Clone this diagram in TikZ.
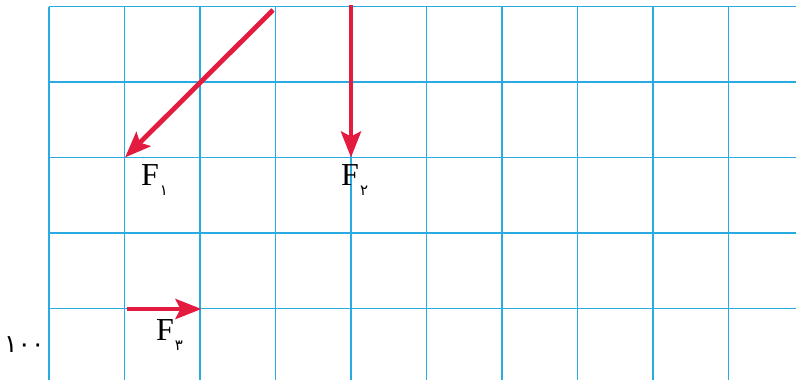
\documentclass[tikz,border=0pt]{standalone}
\usepackage{fontspec}
\setmainfont{Liberation Serif}
\newfontfamily\arabicfont[Script=Arabic]{DejaVu Sans}
\usetikzlibrary{arrows.meta}
\definecolor{gridblue}{HTML}{29ABE2}
\definecolor{vecred}{HTML}{E31B3F}
\tikzset{
  gridline/.style={draw=gridblue, line width=1.3pt},
  vector/.style={draw=vecred, line width=4.8pt, -{Stealth[length=26pt,width=20pt,inset=5pt]}},
  flabel/.style={anchor=base west, inner sep=0pt, font=\fontsize{32}{32}\selectfont},
}
\newcommand{\persub}[1]{\kern1pt\raisebox{-10pt}{\fontsize{15}{15}\arabicfont #1}}
\begin{document}
\begin{tikzpicture}[x=1pt,y=-1pt]
\useasboundingbox (0,0) rectangle (796,380);
% grid
\foreach \i in {0,...,9} {
  \draw[gridline] (49+75.5*\i,6.5) -- (49+75.5*\i,380);
}
\foreach \j in {0,...,4} {
  \draw[gridline] (49,6.5+75.5*\j) -- (796,6.5+75.5*\j);
}
% vector endpoints
\coordinate (a1) at (273,10);
\coordinate (b1) at (125,157.5);
\coordinate (a2) at (351,5);
\coordinate (b2) at (351,157.5);
\coordinate (a3) at (127,309);
\coordinate (b3) at (201.5,309);
\draw[vector] (a1) -- (b1);
\draw[vector] (a2) -- (b2);
\draw[vector] (a3) -- (b3);
% labels
\node[flabel] (f1) at (141,185) {F\persub{۱}};
\node[flabel] (f2) at (341,185) {F\persub{۲}};
\node[flabel] (f3) at (156,340) {F\persub{۳}};
\node[anchor=base west, inner sep=0pt, font=\fontsize{25}{25}\arabicfont] (hundred) at (4,352) {۱۰۰};
\end{tikzpicture}
\end{document}
